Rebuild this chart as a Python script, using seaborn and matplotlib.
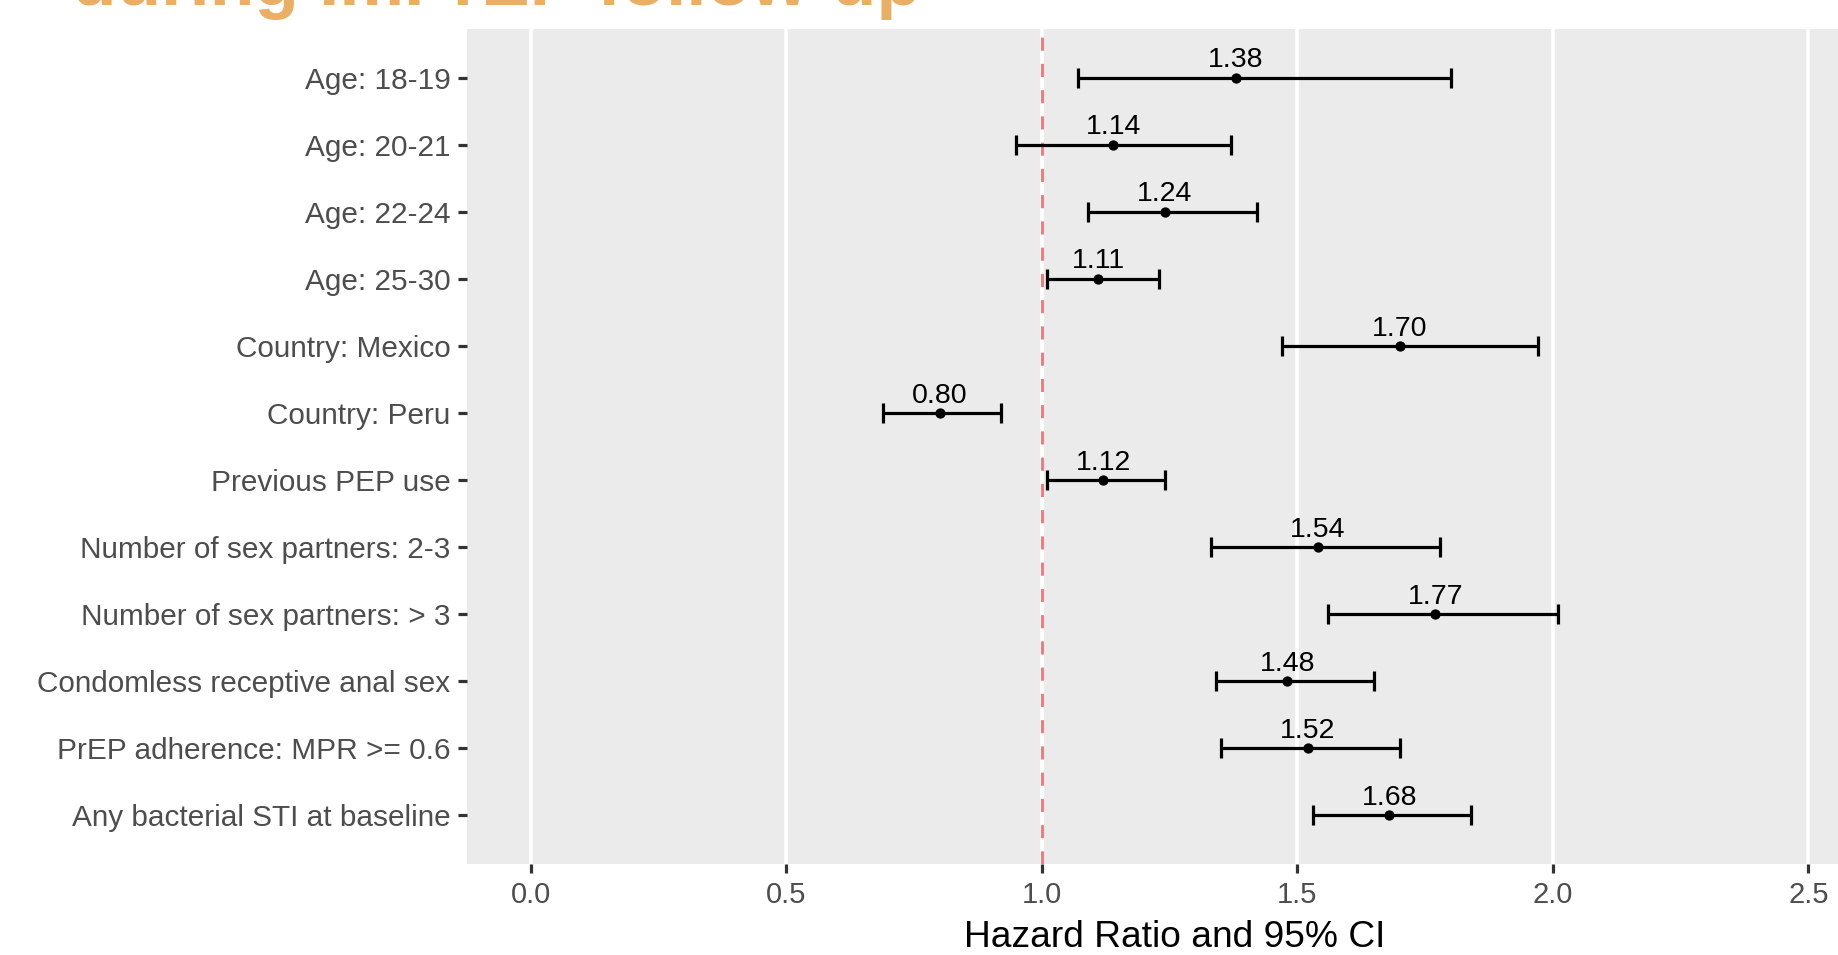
import numpy as np
import pandas as pd
import matplotlib
matplotlib.use("Agg")
import matplotlib.pyplot as plt
import seaborn as sns

# ---- data ----
categories = [
    "Age: 18-19",
    "Age: 20-21",
    "Age: 22-24",
    "Age: 25-30",
    "Country: Mexico",
    "Country: Peru",
    "Previous PEP use",
    "Number of sex partners: 2-3",
    "Number of sex partners: > 3",
    "Condomless receptive anal sex",
    "PrEP adherence: MPR >= 0.6",
    "Any bacterial STI at baseline",
]
hazard_ratio = [1.38, 1.14, 1.24, 1.11, 1.70, 0.80, 1.12, 1.54, 1.77, 1.48, 1.52, 1.68]
ci_lower = [1.07, 0.95, 1.09, 1.01, 1.47, 0.69, 1.01, 1.33, 1.56, 1.34, 1.35, 1.53]
ci_upper = [1.80, 1.37, 1.42, 1.23, 1.97, 0.92, 1.24, 1.78, 2.01, 1.65, 1.70, 1.84]
x_ticks = [0.0, 0.5, 1.0, 1.5, 2.0, 2.5]
x_tick_labels = ["0.0", "0.5", "1.0", "1.5", "2.0", "2.5"]
reference_line = 1.0
title_text = "during ImPrEP follow-up"
x_label = "Hazard Ratio and 95% CI"

df = pd.DataFrame({"label": categories, "hr": hazard_ratio,
                   "lo": ci_lower, "hi": ci_upper})

sns.set_theme(style="darkgrid")
plt.rcParams["font.family"] = ["Liberation Sans", "DejaVu Sans"]

W, H = 1838, 955
fig = plt.figure(figsize=(W / 100, H / 100), dpi=100)
fig.patch.set_facecolor("white")

xmin, xmax = -0.126, 2.646
px_per_unit = 511.0
left_px, top_px, bottom_px = 466.5, 29.3, 864.0
ax = fig.add_axes([left_px / W, 1 - bottom_px / H,
                   (xmax - xmin) * px_per_unit / W, (bottom_px - top_px) / H])
ax.set_facecolor("#EBEBEB")
for s in ax.spines.values():
    s.set_visible(False)

ypos = np.arange(len(df))

# reference line
ax.axvline(reference_line, color="#F57878", lw=2.1, ls=(0, (4.5, 4.5)), zorder=3)

# CI error bars
ax.errorbar(df["hr"], ypos, xerr=[df["hr"] - df["lo"], df["hi"] - df["hr"]],
            fmt="none", ecolor="black", elinewidth=2.3, capsize=7.2,
            capthick=2.3, zorder=4)

# points
sns.scatterplot(data=df, x="hr", y=ypos, ax=ax, color="black", s=55,
                edgecolor="black", linewidth=0, zorder=5, legend=False)

# value labels
for i, v in enumerate(df["hr"]):
    ax.annotate(f"{v:.2f}", (v, ypos[i]), xytext=(0, 7.6),
                textcoords="offset points", ha="center", va="baseline",
                fontsize=20.5, color="black", zorder=6)

ax.set_xlim(xmin, xmax)
ax.set_ylim(len(df) - 1 + 0.725, -0.725)
ax.set_xticks(x_ticks)
ax.set_xticklabels(x_tick_labels)
ax.set_yticks(ypos)
ax.set_yticklabels(df["label"])
ax.grid(axis="x", color="white", lw=2.6)
ax.grid(axis="y", visible=False)
ax.set_axisbelow(True)
ax.tick_params(axis="both", which="major", length=6.5, width=2.3,
               color="#333333", labelcolor="#4D4D4D", labelsize=21.4,
               bottom=True, left=True)
ax.tick_params(axis="y", pad=5)
ax.tick_params(axis="x", pad=6, labelsize=21)
ax.set_ylabel("")
ax.set_xlabel(x_label, fontsize=26.7, color="black", labelpad=8)

fig.text(71.7 / W, 1 - 5 / H, title_text, fontsize=52.5, fontweight="bold",
         color="#E9AF65", ha="left", va="baseline")

fig.savefig("out.png", dpi=100)
